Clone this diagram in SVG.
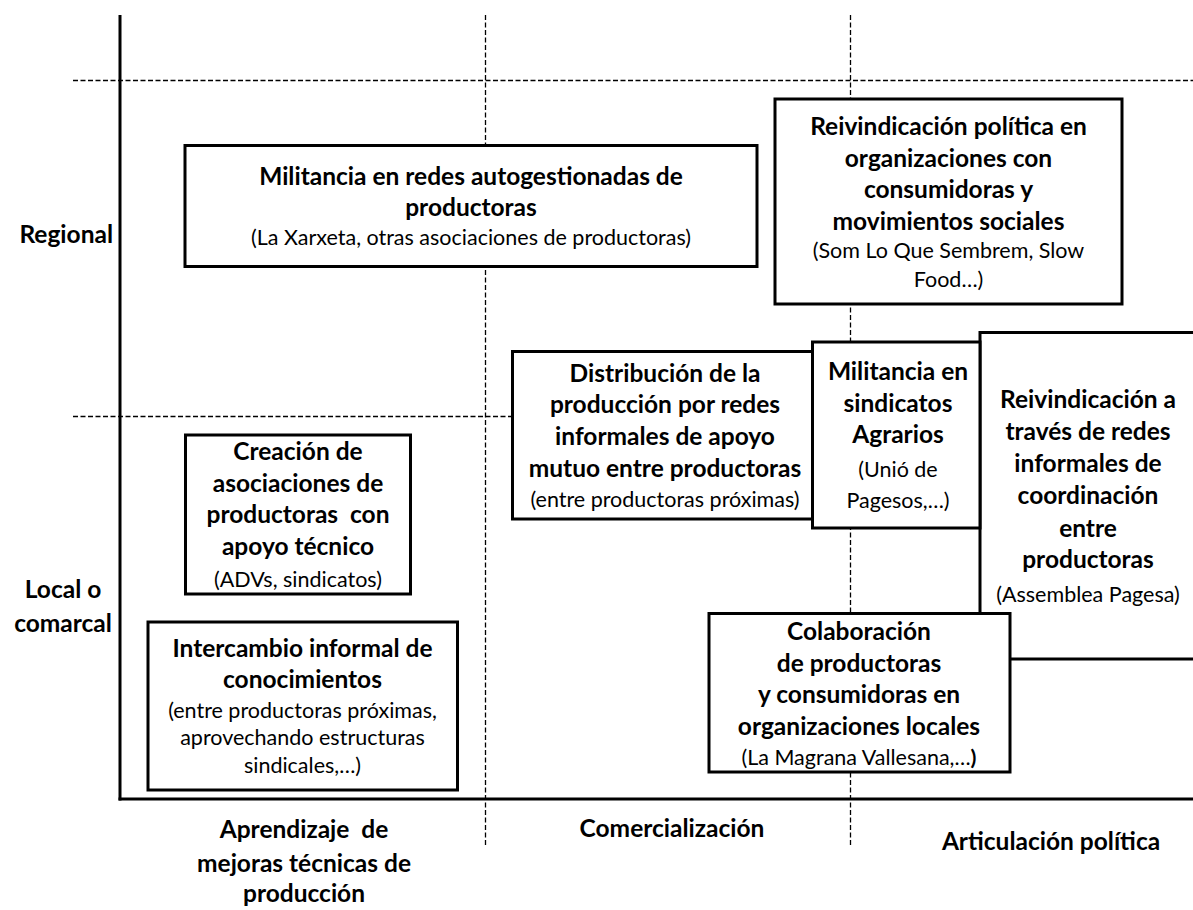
<svg xmlns="http://www.w3.org/2000/svg" width="1193" height="910" viewBox="0 0 1193 910">
<style>
.bg{fill:#fff}
.grid{stroke:#000;stroke-width:1.3;stroke-dasharray:5 2.5;fill:none}
.axis{stroke:#000;stroke-width:3;fill:none}
.box{fill:#fff;stroke:#000;stroke-width:3}
text{font-family:Lato,"Liberation Sans",sans-serif;fill:#000;text-anchor:middle}
.b{font-weight:bold;font-size:24.5px}
.r{font-size:21.5px}
.lab{font-weight:bold;font-size:24.5px}
.end{text-anchor:end}
</style>
<rect class="bg" x="0" y="0" width="1193" height="910"/>
<g id="connectors">
<line class="grid" x1="73" y1="80.5" x2="1193" y2="80.5"/>
<line class="grid" x1="73" y1="416.5" x2="512" y2="416.5"/>
<line class="grid" x1="485.5" y1="15" x2="485.5" y2="846"/>
<line class="grid" x1="850.5" y1="15" x2="850.5" y2="846"/>
<line class="axis" x1="120" y1="15" x2="120" y2="800.5"/>
<line class="axis" x1="118.5" y1="799" x2="1193" y2="799"/>
</g>
<g id="axis-labels">
<text class="lab end" x="113" y="243">Regional</text>
<text class="lab" x="63" y="598">Local o</text>
<text class="lab" x="63" y="632">comarcal</text>
<text class="lab" x="304" y="838" xml:space="preserve">Aprendizaje  de</text>
<text class="lab" x="304" y="871.5">mejoras técnicas de</text>
<text class="lab" x="304" y="902">producción</text>
<text class="lab" x="672" y="837">Comercialización</text>
<text class="lab" x="1051" y="850">Articulación política</text>
</g>
<g id="n-militancia-redes">
<rect class="box" x="185" y="145.5" width="572" height="121"/>
<text class="b" x="471" y="185">Militancia en redes autogestionadas de</text>
<text class="b" x="471" y="215.5">productoras</text>
<text class="r" x="471" y="245">(La Xarxeta, otras asociaciones de productoras)</text>
</g>
<g id="n-reivindicacion-politica">
<rect class="box" x="775" y="99" width="347" height="205"/>
<text class="b" x="948.5" y="135">Reivindicación política en</text>
<text class="b" x="948.5" y="166.5">organizaciones con</text>
<text class="b" x="948.5" y="198">consumidoras y</text>
<text class="b" x="948.5" y="230">movimientos sociales</text>
<text class="r" x="948.5" y="258">(Som Lo Que Sembrem, Slow</text>
<text class="r" x="948.5" y="287">Food…)</text>
</g>
<g id="n-reivindicacion-redes">
<rect class="box" x="980" y="332.5" width="230" height="326.5"/>
<text class="b" x="1088" y="408">Reivindicación a</text>
<text class="b" x="1088" y="440">través de redes</text>
<text class="b" x="1088" y="471.5">informales de</text>
<text class="b" x="1088" y="504">coordinación</text>
<text class="b" x="1088" y="536.5">entre</text>
<text class="b" x="1088" y="568">productoras</text>
<text class="r" x="1088" y="601.5">(Assemblea Pagesa)</text>
</g>
<g id="n-distribucion">
<rect class="box" x="512.5" y="351.5" width="300" height="167.5"/>
<text class="b" x="665" y="381.5">Distribución de la</text>
<text class="b" x="665" y="413">producción por redes</text>
<text class="b" x="665" y="445">informales de apoyo</text>
<text class="b" x="665" y="476.5">mutuo entre productoras</text>
<text class="r" x="665" y="507">(entre productoras próximas)</text>
</g>
<g id="n-militancia-sindicatos">
<rect class="box" x="812.5" y="342" width="167.5" height="186"/>
<text class="b" x="898" y="380">Militancia en</text>
<text class="b" x="898" y="411.5">sindicatos</text>
<text class="b" x="898" y="443">Agrarios</text>
<text class="r" x="898" y="476.5">(Unió de</text>
<text class="r" x="898" y="508">Pagesos,…)</text>
</g>
<g id="n-creacion">
<rect class="box" x="185.5" y="435" width="225" height="159"/>
<text class="b" x="298" y="460">Creación de</text>
<text class="b" x="298" y="491.5">asociaciones de</text>
<text class="b" x="298" y="523" xml:space="preserve">productoras  con</text>
<text class="b" x="298" y="555">apoyo técnico</text>
<text class="r" x="298" y="586.5">(ADVs, sindicatos)</text>
</g>
<g id="n-intercambio">
<rect class="box" x="148" y="622" width="309.5" height="168"/>
<text class="b" x="302.5" y="656.5">Intercambio informal de</text>
<text class="b" x="302.5" y="688">conocimientos</text>
<text class="r" x="302.5" y="718">(entre productoras próximas,</text>
<text class="r" x="302.5" y="745">aprovechando estructuras</text>
<text class="r" x="302.5" y="773">sindicales,…)</text>
</g>
<g id="n-colaboracion">
<rect class="box" x="709" y="613.5" width="301" height="158.5"/>
<text class="b" x="859" y="640">Colaboración</text>
<text class="b" x="859" y="671.5">de productoras</text>
<text class="b" x="859" y="703">y consumidoras en</text>
<text class="b" x="859" y="735">organizaciones locales</text>
<text class="r" x="859" y="765">(La Magrana Vallesana,…<tspan font-weight="bold">)</tspan></text>
</g>
</svg>
